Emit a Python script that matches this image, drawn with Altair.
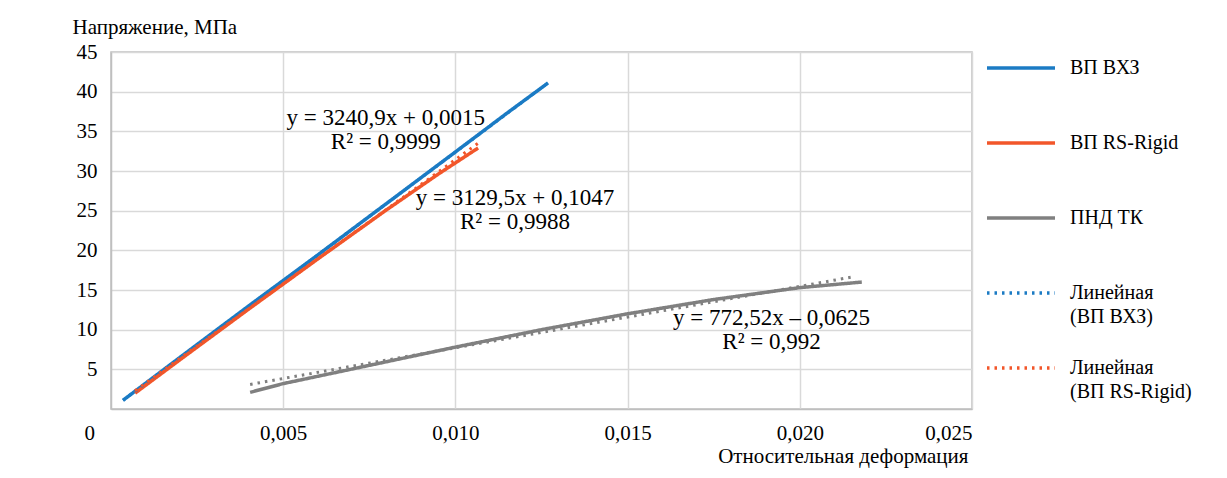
import altair as alt
import pandas as pd

# ---- data ----
series_names = ["ВП ВХЗ", "ВП RS-Rigid", "ПНД ТК",
                "Линейная (ВП ВХЗ)", "Линейная (ВП RS-Rigid)", "Линейная (ПНД ТК)"]
legend_names = series_names[:5]
series_colors = ["#1b7bc4", "#f2562a", "#808080", "#1b7bc4", "#f2562a", "#808080"]

# measured curves
vhz_x = [0.00035, 0.002, 0.004, 0.006, 0.008, 0.010, 0.0115, 0.01269]
vhz_y = [1.1, 6.5, 13.0, 19.4, 25.9, 32.4, 37.3, 41.1]
rs_x = [0.0007, 0.002, 0.004, 0.006, 0.008, 0.0095, 0.01066]
rs_y = [2.0, 6.2, 12.6, 18.9, 25.1, 29.6, 32.9]
pnd_x = [0.00404, 0.005, 0.0075, 0.010, 0.0125, 0.015, 0.0175, 0.020, 0.0218]
pnd_y = [2.1, 3.2, 5.5, 7.8, 10.0, 12.0, 13.8, 15.3, 16.0]

# trend line end points
vhz_tx = [0.00035, 0.01269]
vhz_ty = [1.1, 41.1]
rs_tx = [0.0007, 0.01066]
rs_ty = [2.3, 33.5]
pnd_tx = [0.00404, 0.0216]
pnd_ty = [3.1, 16.7]

# trend equations
ann_x = [0.00798, 0.01173, 0.01918]
ann_y = [36.7, 26.6, 11.5]
ann_text = ["y = 3240,9x + 0,0015\nR² = 0,9999",
            "y = 3129,5x + 0,1047\nR² = 0,9988",
            "y = 772,52x – 0,0625\nR² = 0,992"]

x_ticks = [0.005, 0.010, 0.015, 0.020, 0.025]
y_ticks = [5, 10, 15, 20, 25, 30, 35, 40, 45]
zero_label = ["0"]

# ---- tables ----
def frame(xs, ys, name):
    return pd.DataFrame({"x": xs, "y": ys, "series": name, "o": range(len(xs))})

lines_df = pd.concat([frame(vhz_x, vhz_y, series_names[0]),
                      frame(rs_x, rs_y, series_names[1]),
                      frame(pnd_x, pnd_y, series_names[2])])
trend_df = pd.concat([frame(vhz_tx, vhz_ty, series_names[3]),
                      frame(rs_tx, rs_ty, series_names[4]),
                      frame(pnd_tx, pnd_ty, series_names[5])])
ann_df = pd.DataFrame({"x": ann_x, "y": ann_y, "t": ann_text})
zero_df = pd.DataFrame({"x": [0.0], "y": [0.0], "t": zero_label})

FONT = "Liberation Serif"

label_expr = ("datum.label == 'Линейная (ВП ВХЗ)' ? ['Линейная', '(ВП ВХЗ)'] : "
              "datum.label == 'Линейная (ВП RS-Rigid)' ? ['Линейная', '(ВП RS-Rigid)'] : "
              "datum.label")

legend = alt.Legend(values=legend_names, title=None, orient="none",
                    legendX=874, legendY=-20, symbolType="stroke",
                    symbolSize=4624, symbolStrokeWidth=3.5,
                    labelFont=FONT, labelFontSize=20, labelColor="#000000",
                    labelOffset=13, rowPadding=5, gridAlign="all",
                    labelExpr=label_expr, padding=0, labelLimit=300)

color = alt.Color("series:N", scale=alt.Scale(domain=series_names, range=series_colors),
                  legend=legend)
dash = alt.StrokeDash("series:N",
                      scale=alt.Scale(domain=series_names,
                                      range=[[1, 0], [1, 0], [1, 0], [2.5, 5], [2.5, 5], [2.5, 5]]),
                      legend=legend)

xenc = alt.X("x:Q", scale=alt.Scale(domain=[0, 0.025], nice=False),
             axis=alt.Axis(values=x_ticks,
                           labelExpr="replace(format(datum.value, '.3f'), '.', ',')",
                           title="Относительная деформация", titleAlign="right",
                           titleX=857, titleY=47, titleBaseline="middle",
                           titleFontWeight="normal", labelPadding=13))
yenc = alt.Y("y:Q", scale=alt.Scale(domain=[0, 45], nice=False),
             axis=alt.Axis(values=y_ticks, title="Напряжение, МПа", titleAngle=0,
                           titleAlign="left", titleX=-39, titleY=-25,
                           titleBaseline="middle", titleFontWeight="normal",
                           labelPadding=14))

solid = alt.Chart(lines_df).mark_line(strokeWidth=3.5, strokeCap="butt").encode(
    x=xenc, y=yenc, color=color, strokeDash=dash, order="o:Q")
trend = alt.Chart(trend_df).mark_line(strokeWidth=3, strokeCap="butt").encode(
    x="x:Q", y="y:Q", color=color, strokeDash=dash, order="o:Q")
ann = alt.Chart(ann_df).mark_text(font=FONT, fontSize=23, color="#000000",
                                  lineBreak="\n", lineHeight=24, align="center",
                                  baseline="middle").encode(x="x:Q", y="y:Q", text="t:N")
zero = alt.Chart(zero_df).mark_text(font=FONT, fontSize=21, color="#000000",
                                    align="right", baseline="middle", dx=-16, dy=25).encode(
    x="x:Q", y="y:Q", text="t:N")

chart = alt.layer(solid, trend, ann, zero).properties(
    width=861, height=357,
    autosize=alt.AutoSizeParams(type="none"),
    padding={"left": 103, "top": 44, "right": 247, "bottom": 61},
    background="#ffffff",
).configure(
    style={"guide-label": {"lineHeight": 24, "font": FONT}}
).configure_view(stroke="#bfbfbf", strokeWidth=1.5).configure_axis(
    labelFont=FONT, labelFontSize=21, labelColor="#000000",
    titleFont=FONT, titleFontSize=21, titleColor="#000000",
    gridColor="#d9d9d9", gridWidth=1.5, domainColor="#bfbfbf", domainWidth=1.5,
    ticks=False,
)

chart.save("out.html", embed_options={"renderer": "svg", "actions": False})
